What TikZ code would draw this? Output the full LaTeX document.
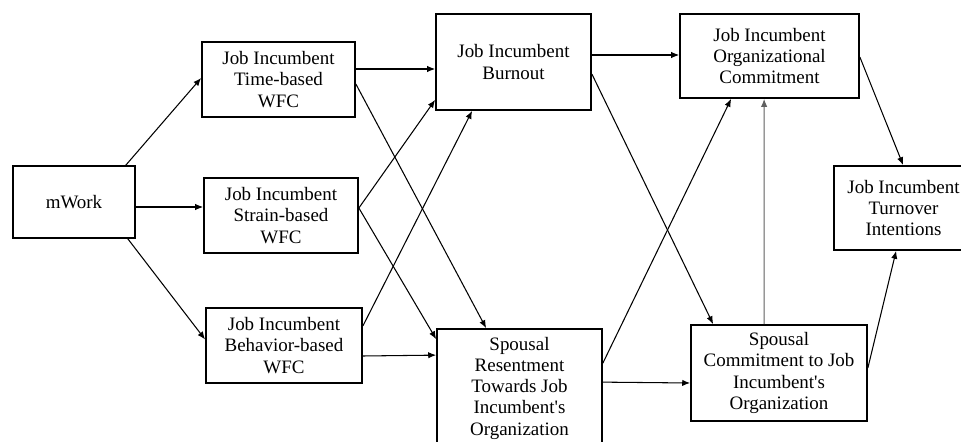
\documentclass[tikz,border=0pt]{standalone}
\usepackage{fontspec}
\setmainfont{Liberation Serif}
\usetikzlibrary{arrows.meta,calc}

\begin{document}
\begin{tikzpicture}[x=0.02cm, y=-0.02cm,
    box/.style={draw, line width=1pt, align=center, inner sep=1pt,
        font=\fontsize{10.8}{12.1}\selectfont},
    link/.style={line width=0.6pt, -{Latex[length=4.5pt,width=3.6pt]}}]
    \definecolor{LinkGray}{HTML}{606060}
    \useasboundingbox (0,0) rectangle (961,442);
    % boxes
    \node[box, minimum width=2.44cm, minimum height=1.44cm] (mwork) at (74,202) {mWork};
    \node[box, minimum width=3.06cm, minimum height=1.50cm] (time) at (278.5,79.5) {Job Incumbent\\Time-based\\WFC};
    \node[box, minimum width=3.08cm, minimum height=1.50cm] (strain) at (281,215.5) {Job Incumbent\\Strain-based\\WFC};
    \node[box, minimum width=3.12cm, minimum height=1.50cm] (behav) at (284,345.5) {Job Incumbent\\Behavior-based\\WFC};
    \node[box, minimum width=3.10cm, minimum height=1.92cm] (burnout) at (513.5,62) {Job Incumbent\\Burnout};
    \node[box, minimum width=3.30cm, minimum height=2.36cm] (resent) at (519.5,388) {Spousal\\Resentment\\Towards Job\\Incumbent\textquotesingle s\\Organization};
    \node[box, minimum width=3.58cm, minimum height=1.68cm] (orgcom) at (769.5,56) {Job Incumbent\\Organizational\\Commitment};
    \node[box, minimum width=3.52cm, minimum height=1.92cm] (spcom) at (779,373) {Spousal\\Commitment to Job\\Incumbent\textquotesingle s\\Organization};
    \node[box, minimum width=2.78cm, minimum height=1.68cm] (turnover) at (903.5,208) {Job Incumbent\\Turnover\\Intentions};
    % paths from mWork
    \draw[link] ($(mwork.north east)+(-10,0)$) -- ($(time.west)+(0,-1.5)$);
    \draw[link] ($(mwork.east)+(0,5)$) -- ($(strain.west)+(0,-8.5)$);
    \draw[link] ($(mwork.south east)+(-8,0)$) -- ($(behav.west)+(0,-6)$);
    % paths from the WFC boxes
    \draw[link] ($(time.east)+(0,-10.5)$) -- ($(burnout.west)+(0,7)$);
    \draw[link] ($(time.east)+(0,4.5)$) -- ($(resent.north west)+(50,0)$);
    \draw[link] ($(strain.east)+(0,-7.5)$) -- ($(burnout.south west)+(0,-11)$);
    \draw[link] ($(strain.east)+(0,-7.5)$) -- ($(resent.north west)+(0,11)$);
    \draw[link] ($(behav.east)+(0,-19.5)$) -- ($(burnout.south west)+(37,0)$);
    \draw[link] ($(behav.east)+(0,10.5)$) -- ($(resent.north west)+(0,27)$);
    % paths from burnout and resentment
    \draw[link] ($(burnout.east)+(0,-7)$) -- ($(orgcom.west)+(0,-1)$);
    \draw[link] ($(burnout.east)+(0,12)$) -- ($(spcom.north west)+(23,0)$);
    \draw[link] ($(resent.north east)+(0,35)$) -- ($(orgcom.south west)+(52,0)$);
    \draw[link] ($(resent.north east)+(0,54)$) -- ($(spcom.west)+(0,10)$);
    % paths into turnover
    \draw[link, LinkGray] ($(spcom.north west)+(74,0)$) -- ($(orgcom.south west)+(85,0)$);
    \draw[link] ($(orgcom.east)+(0,1)$) -- ($(turnover.north west)+(70,0)$);
    \draw[link] ($(spcom.east)+(0,-5)$) -- ($(turnover.south west)+(63,0)$);
\end{tikzpicture}
\end{document}
